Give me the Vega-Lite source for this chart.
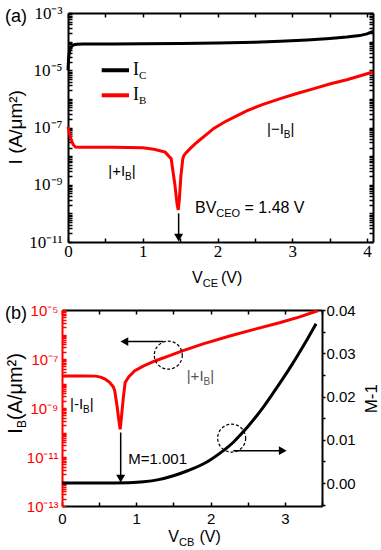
{
  "$schema": "https://vega.github.io/schema/vega-lite/v6.json",
  "background": "white",
  "padding": {"left": 4, "top": 4, "right": 0, "bottom": 0},
  "spacing": 13,
  "config": {
    "font": "Liberation Sans",
    "view": {"stroke": null},
    "axis": {"grid": false, "domainColor": "black", "domainWidth": 2, "tickColor": "black", "tickWidth": 1.5, "labelFlush": false, "labelOverlap": false, "labelColor": "black"}
  },
  "vconcat": [
    {
      "spacing": 0,
      "hconcat": [
        {"width": 1, "height": 1, "data": {"values": []}, "mark": "point", "encoding": {}},
        {
          "width": 305,
          "height": 229,
          "layer": [
            {
              "data": {"values": [
                {"v": 0, "i": 1.0e-5}, {"v": 0.008, "i": 2.51e-5}, {"v": 0.016, "i": 3.98e-5}, {"v": 0.03, "i": 5.62e-5},
                {"v": 0.05, "i": 6.92e-5}, {"v": 0.08, "i": 7.76e-5}, {"v": 0.12, "i": 8.13e-5}, {"v": 0.2, "i": 8.32e-5},
                {"v": 0.6, "i": 8.32e-5}, {"v": 1.0, "i": 8.41e-5}, {"v": 1.5, "i": 8.61e-5}, {"v": 2.0, "i": 8.91e-5},
                {"v": 2.5, "i": 9.55e-5}, {"v": 2.84, "i": 1.035e-4}, {"v": 3.2, "i": 1.148e-4}, {"v": 3.5, "i": 1.288e-4},
                {"v": 3.73, "i": 1.445e-4}, {"v": 3.9, "i": 1.622e-4}, {"v": 4.0, "i": 1.862e-4}, {"v": 4.08, "i": 2.29e-4}
              ]},
              "mark": {"type": "line", "color": "black", "strokeWidth": 3},
              "encoding": {
                "x": {"field": "v", "type": "quantitative", "scale": {"domain": [0, 4.08], "nice": false, "zero": false},
                  "axis": {"orient": "bottom", "title": null, "values": [0, 0.5, 1, 1.5, 2, 2.5, 3, 3.5, 4], "labelExpr": "datum.value % 1 == 0 ? format(datum.value, 'd') : ''", "labelFont": "Liberation Serif", "labelFontSize": 17, "tickSize": -4, "labelPadding": 5}},
                "y": {"field": "i", "type": "quantitative", "scale": {"type": "log", "domain": [1e-11, 1e-3], "nice": false},
                  "axis": {"orient": "left", "title": null,
                    "values": [1e-11,2e-11,3e-11,4e-11,5e-11,6e-11,7e-11,8e-11,9e-11,1e-10,2e-10,3e-10,4e-10,5e-10,6e-10,7e-10,8e-10,9e-10,1e-9,2e-9,3e-9,4e-9,5e-9,6e-9,7e-9,8e-9,9e-9,1e-8,2e-8,3e-8,4e-8,5e-8,6e-8,7e-8,8e-8,9e-8,1e-7,2e-7,3e-7,4e-7,5e-7,6e-7,7e-7,8e-7,9e-7,1e-6,2e-6,3e-6,4e-6,5e-6,6e-6,7e-6,8e-6,9e-6,1e-5,2e-5,3e-5,4e-5,5e-5,6e-5,7e-5,8e-5,9e-5,1e-4,2e-4,3e-4,4e-4,5e-4,6e-4,7e-4,8e-4,9e-4,1e-3],
                    "labelExpr": "(abs(log(datum.value)/LN10 - round(log(datum.value)/LN10)) < 0.01 && round(log(datum.value)/LN10) % 2 != 0) ? '10' + (round(log(datum.value)/LN10) == -3 ? '⁻³' : round(log(datum.value)/LN10) == -5 ? '⁻⁵' : round(log(datum.value)/LN10) == -7 ? '⁻⁷' : round(log(datum.value)/LN10) == -9 ? '⁻⁹' : round(log(datum.value)/LN10) == -11 ? '⁻¹¹' : '⁻¹³') : ''",
                    "labelFont": "Liberation Serif", "labelFontSize": 17, "tickSize": -4, "labelPadding": 10}}
              }
            },
            {
              "data": {"values": [
                {"v": 0, "i": 1.047e-7}, {"v": 0.02, "i": 6.31e-8}, {"v": 0.04, "i": 3.8e-8}, {"v": 0.07, "i": 2.51e-8},
                {"v": 0.1, "i": 2.09e-8}, {"v": 0.15, "i": 2.04e-8}, {"v": 0.6, "i": 2.04e-8}, {"v": 1.0, "i": 1.95e-8},
                {"v": 1.15, "i": 1.74e-8}, {"v": 1.3, "i": 1.38e-8}, {"v": 1.38, "i": 8.13e-9}, {"v": 1.43, "i": 1e-9},
                {"v": 1.46, "i": 2e-10}, {"v": 1.475, "i": 1.32e-10}, {"v": 1.49, "i": 3.16e-10}, {"v": 1.51, "i": 2e-9},
                {"v": 1.535, "i": 7.94e-9}, {"v": 1.55, "i": 1.05e-8}, {"v": 1.58, "i": 1.32e-8}, {"v": 1.64, "i": 1.905e-8},
                {"v": 1.7, "i": 2.69e-8}, {"v": 1.77, "i": 3.8e-8}, {"v": 1.85, "i": 5.62e-8}, {"v": 1.95, "i": 9.33e-8},
                {"v": 2.1, "i": 1.585e-7}, {"v": 2.25, "i": 2.51e-7}, {"v": 2.39, "i": 3.8e-7}, {"v": 2.6, "i": 6.31e-7},
                {"v": 2.84, "i": 1.023e-6}, {"v": 3.05, "i": 1.51e-6}, {"v": 3.29, "i": 2.29e-6}, {"v": 3.5, "i": 3.31e-6},
                {"v": 3.73, "i": 4.68e-6}, {"v": 3.9, "i": 6.31e-6}, {"v": 4.08, "i": 8.71e-6}
              ]},
              "mark": {"type": "line", "color": "#ff0000", "strokeWidth": 3},
              "encoding": {
                "x": {"field": "v", "type": "quantitative", "scale": {"domain": [0, 4.08], "nice": false, "zero": false},
                  "axis": {"orient": "top", "title": null, "values": [0, 0.5, 1, 1.5, 2, 2.5, 3, 3.5, 4], "labels": false, "tickSize": -4}},
                "y": {"field": "i", "type": "quantitative", "scale": {"type": "log", "domain": [1e-11, 1e-3], "nice": false},
                  "axis": {"orient": "right", "title": null,
                    "values": [1e-11,2e-11,3e-11,4e-11,5e-11,6e-11,7e-11,8e-11,9e-11,1e-10,2e-10,3e-10,4e-10,5e-10,6e-10,7e-10,8e-10,9e-10,1e-9,2e-9,3e-9,4e-9,5e-9,6e-9,7e-9,8e-9,9e-9,1e-8,2e-8,3e-8,4e-8,5e-8,6e-8,7e-8,8e-8,9e-8,1e-7,2e-7,3e-7,4e-7,5e-7,6e-7,7e-7,8e-7,9e-7,1e-6,2e-6,3e-6,4e-6,5e-6,6e-6,7e-6,8e-6,9e-6,1e-5,2e-5,3e-5,4e-5,5e-5,6e-5,7e-5,8e-5,9e-5,1e-4,2e-4,3e-4,4e-4,5e-4,6e-4,7e-4,8e-4,9e-4,1e-3],
                    "labels": false, "tickSize": -4}}
              }
            },
            {
              "data": {"values": [
                {"v": 0.451, "v2": 0.816, "y": 1e-5, "s": "IC"},
                {"v": 0.451, "v2": 0.816, "y": 1.334e-6, "s": "IB"}
              ]},
              "mark": {"type": "rule", "strokeWidth": 4},
              "encoding": {
                "x": {"field": "v", "type": "quantitative", "axis": null},
                "x2": {"field": "v2"},
                "y": {"field": "y", "type": "quantitative", "scale": {"type": "log"}, "axis": null},
                "color": {"field": "s", "type": "nominal", "scale": {"domain": ["IC", "IB"], "range": ["black", "#ff0000"]}, "legend": null}
              }
            },
            {
              "data": {"values": [{"v": 1.48, "y": 1e-10, "y2": 1.78e-11}]},
              "mark": {"type": "rule", "strokeWidth": 1.5, "color": "black"},
              "encoding": {
                "x": {"field": "v", "type": "quantitative", "axis": null},
                "y": {"field": "y", "type": "quantitative", "scale": {"type": "log"}, "axis": null},
                "y2": {"field": "y2"}
              }
            },
            {
              "data": {"values": [{"v": 1.48, "y": 1.41e-11}]},
              "mark": {"type": "point", "shape": "triangle-down", "filled": true, "color": "black", "size": 80, "opacity": 1},
              "encoding": {
                "x": {"field": "v", "type": "quantitative", "axis": null},
                "y": {"field": "y", "type": "quantitative", "scale": {"type": "log"}, "axis": null}
              }
            },
            {
              "data": {"values": [{"v": 0.87, "y": 1e-5, "t": "I"}, {"v": 0.87, "y": 1.334e-6, "t": "I"}]},
              "mark": {"type": "text", "font": "Liberation Serif", "fontSize": 18, "align": "left", "baseline": "middle", "color": "black"},
              "encoding": {
                "x": {"field": "v", "type": "quantitative", "axis": null},
                "y": {"field": "y", "type": "quantitative", "scale": {"type": "log"}, "axis": null},
                "text": {"field": "t"}
              }
            },
            {
              "data": {"values": [{"v": 0.95, "y": 1e-5, "t": "C"}, {"v": 0.95, "y": 1.334e-6, "t": "B"}]},
              "mark": {"type": "text", "font": "Liberation Serif", "fontSize": 11, "align": "left", "baseline": "middle", "dy": 6, "color": "black"},
              "encoding": {
                "x": {"field": "v", "type": "quantitative", "axis": null},
                "y": {"field": "y", "type": "quantitative", "scale": {"type": "log"}, "axis": null},
                "text": {"field": "t"}
              }
            },
            {
              "data": {"values": [
                {"v": 2.662, "y": 9.1e-8, "t": "|−I"}, {"v": 2.977, "y": 9.1e-8, "t": "|"},
                {"v": 0.539, "y": 2.95e-9, "t": "|+I"}, {"v": 0.853, "y": 2.95e-9, "t": "|"}
              ]},
              "mark": {"type": "text", "fontSize": 15, "align": "left", "baseline": "middle", "color": "black"},
              "encoding": {
                "x": {"field": "v", "type": "quantitative", "axis": null},
                "y": {"field": "y", "type": "quantitative", "scale": {"type": "log"}, "axis": null},
                "text": {"field": "t"}
              }
            },
            {
              "data": {"values": [{"v": 2.887, "y": 9.1e-8, "t": "B"}, {"v": 0.764, "y": 2.95e-9, "t": "B"}]},
              "mark": {"type": "text", "fontSize": 10, "align": "left", "baseline": "middle", "dy": 6, "color": "black"},
              "encoding": {
                "x": {"field": "v", "type": "quantitative", "axis": null},
                "y": {"field": "y", "type": "quantitative", "scale": {"type": "log"}, "axis": null},
                "text": {"field": "t"}
              }
            },
            {
              "data": {"values": [
                {"v": 1.699, "y": 1.585e-10, "t": "BV"}, {"v": 2.361, "y": 1.585e-10, "t": "= 1.48 V"},
                {"v": 1.659, "y": 5.37e-13, "t": "V"}, {"v": 2.047, "y": 5.37e-13, "t": "(V)"}
              ]},
              "mark": {"type": "text", "fontSize": 16, "align": "left", "baseline": "middle", "color": "black"},
              "encoding": {
                "x": {"field": "v", "type": "quantitative", "axis": null},
                "y": {"field": "y", "type": "quantitative", "scale": {"type": "log"}, "axis": null},
                "text": {"field": "t"}
              }
            },
            {
              "data": {"values": [{"v": 1.984, "y": 1.585e-10, "t": "CEO"}, {"v": 1.802, "y": 5.37e-13, "t": "CE"}]},
              "mark": {"type": "text", "fontSize": 11, "align": "left", "baseline": "middle", "dy": 6, "color": "black"},
              "encoding": {
                "x": {"field": "v", "type": "quantitative", "axis": null},
                "y": {"field": "y", "type": "quantitative", "scale": {"type": "log"}, "axis": null},
                "text": {"field": "t"}
              }
            },
            {
              "data": {"values": [{"v": -0.842, "y": 7.08e-4, "t": "(a)"}]},
              "mark": {"type": "text", "fontSize": 18, "align": "left", "baseline": "middle", "color": "black"},
              "encoding": {
                "x": {"field": "v", "type": "quantitative", "axis": null},
                "y": {"field": "y", "type": "quantitative", "scale": {"type": "log"}, "axis": null},
                "text": {"field": "t"}
              }
            },
            {
              "data": {"values": [{"v": -0.702, "y": 1.02e-7, "t": "I (A/μm²)"}]},
              "mark": {"type": "text", "fontSize": 19, "align": "center", "baseline": "middle", "angle": 270, "color": "black"},
              "encoding": {
                "x": {"field": "v", "type": "quantitative", "axis": null},
                "y": {"field": "y", "type": "quantitative", "scale": {"type": "log"}, "axis": null},
                "text": {"field": "t"}
              }
            }
          ],
          "resolve": {"axis": {"x": "independent", "y": "independent"}}
        }
      ]
    },
    {
      "spacing": 0,
      "hconcat": [
        {"width": 1, "height": 1, "data": {"values": []}, "mark": "point", "encoding": {}},
        {
          "width": 260,
          "height": 196,
          "layer": [
            {
              "layer": [
                {
                  "data": {"values": [
                    {"v": 0, "i": 2.04e-8}, {"v": 0.3, "i": 2.04e-8}, {"v": 0.45, "i": 2.0e-8}, {"v": 0.52, "i": 1.82e-8},
                    {"v": 0.58, "i": 1.51e-8}, {"v": 0.64, "i": 1.12e-8}, {"v": 0.69, "i": 7.41e-9}, {"v": 0.71, "i": 5.01e-9},
                    {"v": 0.74, "i": 1.26e-9}, {"v": 0.765, "i": 3.16e-10}, {"v": 0.783, "i": 1.35e-10}, {"v": 0.8, "i": 4.17e-10},
                    {"v": 0.825, "i": 2.51e-9}, {"v": 0.85, "i": 1.1e-8}, {"v": 0.9, "i": 1.905e-8}, {"v": 0.98, "i": 3.31e-8},
                    {"v": 1.1, "i": 5.25e-8}, {"v": 1.26, "i": 8.51e-8}, {"v": 1.45, "i": 1.38e-7}, {"v": 1.62, "i": 2.14e-7},
                    {"v": 1.9, "i": 4.17e-7}, {"v": 2.27, "i": 8.91e-7}, {"v": 2.6, "i": 1.66e-6}, {"v": 2.94, "i": 3.09e-6},
                    {"v": 3.2, "i": 5.25e-6}, {"v": 3.44, "i": 9.33e-6}
                  ]},
                  "mark": {"type": "line", "color": "#ff0000", "strokeWidth": 3},
                  "encoding": {
                    "x": {"field": "v", "type": "quantitative", "scale": {"domain": [0, 3.5], "nice": false, "zero": false},
                      "axis": {"orient": "bottom", "title": null, "values": [0, 0.5, 1, 1.5, 2, 2.5, 3, 3.5], "labelExpr": "datum.value % 1 == 0 ? format(datum.value, 'd') : ''", "labelFontSize": 15, "tickSize": -4, "labelPadding": 9}},
                    "y": {"field": "i", "type": "quantitative", "scale": {"type": "log", "domain": [1e-13, 1e-5], "nice": false},
                      "axis": {"orient": "left", "title": null,
                        "values": [1e-13,2e-13,3e-13,4e-13,5e-13,6e-13,7e-13,8e-13,9e-13,1e-12,2e-12,3e-12,4e-12,5e-12,6e-12,7e-12,8e-12,9e-12,1e-11,2e-11,3e-11,4e-11,5e-11,6e-11,7e-11,8e-11,9e-11,1e-10,2e-10,3e-10,4e-10,5e-10,6e-10,7e-10,8e-10,9e-10,1e-9,2e-9,3e-9,4e-9,5e-9,6e-9,7e-9,8e-9,9e-9,1e-8,2e-8,3e-8,4e-8,5e-8,6e-8,7e-8,8e-8,9e-8,1e-7,2e-7,3e-7,4e-7,5e-7,6e-7,7e-7,8e-7,9e-7,1e-6,2e-6,3e-6,4e-6,5e-6,6e-6,7e-6,8e-6,9e-6,1e-5],
                        "labelExpr": "(abs(log(datum.value)/LN10 - round(log(datum.value)/LN10)) < 0.01 && round(log(datum.value)/LN10) % 2 != 0) ? '10' + (round(log(datum.value)/LN10) == -3 ? '⁻³' : round(log(datum.value)/LN10) == -5 ? '⁻⁵' : round(log(datum.value)/LN10) == -7 ? '⁻⁷' : round(log(datum.value)/LN10) == -9 ? '⁻⁹' : round(log(datum.value)/LN10) == -11 ? '⁻¹¹' : '⁻¹³') : ''",
                        "labelFontSize": 15, "labelColor": "#ff0000", "domainColor": "#ff0000", "tickColor": "#ff0000", "tickSize": -4, "labelPadding": 8}}
                  }
                },
                {
                  "data": {"values": [{"v": 0.79, "y": 1e-10, "y2": 1.78e-12}]},
                  "mark": {"type": "rule", "strokeWidth": 1.5, "color": "black"},
                  "encoding": {
                    "x": {"field": "v", "type": "quantitative", "axis": null},
                    "y": {"field": "y", "type": "quantitative", "scale": {"type": "log"}, "axis": null},
                    "y2": {"field": "y2"}
                  }
                },
                {
                  "data": {"values": [{"v": 1.364, "v2": 0.88, "y": 5.13e-7}, {"v": 2.306, "v2": 2.95, "y": 1.82e-11}]},
                  "mark": {"type": "rule", "strokeWidth": 1.5, "color": "black"},
                  "encoding": {
                    "x": {"field": "v", "type": "quantitative", "axis": null},
                    "x2": {"field": "v2"},
                    "y": {"field": "y", "type": "quantitative", "scale": {"type": "log"}, "axis": null}
                  }
                },
                {
                  "data": {"values": [
                    {"v": 0.79, "y": 1.32e-12, "d": "down"},
                    {"v": 0.84, "y": 5.13e-7, "d": "left"},
                    {"v": 2.972, "y": 1.82e-11, "d": "right"}
                  ]},
                  "mark": {"type": "point", "filled": true, "color": "black", "size": 80, "opacity": 1},
                  "encoding": {
                    "x": {"field": "v", "type": "quantitative", "axis": null},
                    "y": {"field": "y", "type": "quantitative", "scale": {"type": "log"}, "axis": null},
                    "shape": {"field": "d", "type": "nominal", "scale": {"domain": ["down", "left", "right"], "range": ["triangle-down", "triangle-left", "triangle-right"]}, "legend": null}
                  }
                },
                {
                  "data": {"values": [{"v": 1.431, "y": 1.43e-7}, {"v": 2.284, "y": 5.89e-11}]},
                  "mark": {"type": "point", "shape": "circle", "filled": false, "size": 784, "stroke": "black", "strokeWidth": 1.2, "strokeDash": [3, 2], "opacity": 1},
                  "encoding": {
                    "x": {"field": "v", "type": "quantitative", "axis": null},
                    "y": {"field": "y", "type": "quantitative", "scale": {"type": "log"}, "axis": null}
                  }
                },
                {
                  "data": {"values": [
                    {"v": 0.108, "y": 1.455e-9, "t": "|-I"}, {"v": 0.374, "y": 1.455e-9, "t": "|"},
                    {"v": 0.892, "y": 8.3e-12, "t": "M=1.001"}
                  ]},
                  "mark": {"type": "text", "fontSize": 15, "align": "left", "baseline": "middle", "color": "black"},
                  "encoding": {
                    "x": {"field": "v", "type": "quantitative", "axis": null},
                    "y": {"field": "y", "type": "quantitative", "scale": {"type": "log"}, "axis": null},
                    "text": {"field": "t"}
                  }
                },
                {
                  "data": {"values": [{"v": 0.284, "y": 1.455e-9, "t": "B"}]},
                  "mark": {"type": "text", "fontSize": 10, "align": "left", "baseline": "middle", "dy": 6, "color": "black"},
                  "encoding": {
                    "x": {"field": "v", "type": "quantitative", "axis": null},
                    "y": {"field": "y", "type": "quantitative", "scale": {"type": "log"}, "axis": null},
                    "text": {"field": "t"}
                  }
                },
                {
                  "data": {"values": [{"v": 1.679, "y": 2.09e-8, "t": "|+I"}, {"v": 1.996, "y": 2.09e-8, "t": "|"}]},
                  "mark": {"type": "text", "fontSize": 15, "align": "left", "baseline": "middle", "color": "#555555"},
                  "encoding": {
                    "x": {"field": "v", "type": "quantitative", "axis": null},
                    "y": {"field": "y", "type": "quantitative", "scale": {"type": "log"}, "axis": null},
                    "text": {"field": "t"}
                  }
                },
                {
                  "data": {"values": [{"v": 1.906, "y": 2.09e-8, "t": "B"}]},
                  "mark": {"type": "text", "fontSize": 10, "align": "left", "baseline": "middle", "dy": 6, "color": "#555555"},
                  "encoding": {
                    "x": {"field": "v", "type": "quantitative", "axis": null},
                    "y": {"field": "y", "type": "quantitative", "scale": {"type": "log"}, "axis": null},
                    "text": {"field": "t"}
                  }
                },
                {
                  "data": {"values": [{"v": 1.431, "y": 5.25e-15, "t": "V"}, {"v": 1.85, "y": 5.25e-15, "t": "(V)"}]},
                  "mark": {"type": "text", "fontSize": 16, "align": "left", "baseline": "middle", "color": "black"},
                  "encoding": {
                    "x": {"field": "v", "type": "quantitative", "axis": null},
                    "y": {"field": "y", "type": "quantitative", "scale": {"type": "log"}, "axis": null},
                    "text": {"field": "t"}
                  }
                },
                {
                  "data": {"values": [{"v": 1.575, "y": 5.25e-15, "t": "CB"}]},
                  "mark": {"type": "text", "fontSize": 11, "align": "left", "baseline": "middle", "dy": 6, "color": "black"},
                  "encoding": {
                    "x": {"field": "v", "type": "quantitative", "axis": null},
                    "y": {"field": "y", "type": "quantitative", "scale": {"type": "log"}, "axis": null},
                    "text": {"field": "t"}
                  }
                },
                {
                  "data": {"values": [{"v": -0.7665, "y": 7.08e-6, "t": "(b)"}]},
                  "mark": {"type": "text", "fontSize": 18, "align": "left", "baseline": "middle", "color": "black"},
                  "encoding": {
                    "x": {"field": "v", "type": "quantitative", "axis": null},
                    "y": {"field": "y", "type": "quantitative", "scale": {"type": "log"}, "axis": null},
                    "text": {"field": "t"}
                  }
                },
                {
                  "data": {"values": [{"v": -0.619, "y": 8.9e-11, "t": "I"}, {"v": -0.619, "y": 3.2e-10, "t": "(A/μm²)"}]},
                  "mark": {"type": "text", "fontSize": 20, "align": "left", "baseline": "middle", "angle": 270, "color": "black"},
                  "encoding": {
                    "x": {"field": "v", "type": "quantitative", "axis": null},
                    "y": {"field": "y", "type": "quantitative", "scale": {"type": "log"}, "axis": null},
                    "text": {"field": "t"}
                  }
                },
                {
                  "data": {"values": [{"v": -0.619, "y": 1.51e-10, "t": "B"}]},
                  "mark": {"type": "text", "fontSize": 12, "align": "left", "baseline": "middle", "angle": 270, "dy": 6, "color": "black"},
                  "encoding": {
                    "x": {"field": "v", "type": "quantitative", "axis": null},
                    "y": {"field": "y", "type": "quantitative", "scale": {"type": "log"}, "axis": null},
                    "text": {"field": "t"}
                  }
                },
                {
                  "data": {"values": [{"v": 4.173, "y": 2.4e-9, "t": "M-1"}]},
                  "mark": {"type": "text", "fontSize": 17, "align": "center", "baseline": "middle", "angle": 270, "color": "black"},
                  "encoding": {
                    "x": {"field": "v", "type": "quantitative", "axis": null},
                    "y": {"field": "y", "type": "quantitative", "scale": {"type": "log"}, "axis": null},
                    "text": {"field": "t"}
                  }
                }
              ],
              "resolve": {"axis": {"x": "independent", "y": "independent"}}
            },
            {
              "data": {"values": [
                {"v": 0, "m": 0}, {"v": 0.5, "m": 0}, {"v": 0.9, "m": 0.0001}, {"v": 1.1, "m": 0.0003},
                {"v": 1.3, "m": 0.0008}, {"v": 1.5, "m": 0.0017}, {"v": 1.7, "m": 0.0029}, {"v": 1.9, "m": 0.0044},
                {"v": 2.0, "m": 0.0054}, {"v": 2.15, "m": 0.0072}, {"v": 2.31, "m": 0.0095}, {"v": 2.4, "m": 0.0111},
                {"v": 2.5, "m": 0.013}, {"v": 2.6, "m": 0.0151}, {"v": 2.72, "m": 0.0178}, {"v": 2.85, "m": 0.021},
                {"v": 2.98, "m": 0.0243}, {"v": 3.1, "m": 0.0275}, {"v": 3.2, "m": 0.0303}, {"v": 3.3, "m": 0.0332},
                {"v": 3.42, "m": 0.0368}
              ]},
              "mark": {"type": "line", "color": "black", "strokeWidth": 3, "interpolate": "monotone"},
              "encoding": {
                "x": {"field": "v", "type": "quantitative", "scale": {"domain": [0, 3.5], "nice": false, "zero": false},
                  "axis": {"orient": "top", "title": null, "values": [0, 0.5, 1, 1.5, 2, 2.5, 3, 3.5], "labels": false, "tickSize": -4}},
                "y": {"field": "m", "type": "quantitative", "scale": {"domain": [-0.0053, 0.04], "nice": false, "zero": false},
                  "axis": {"orient": "right", "title": null, "values": [-0.005, 0, 0.005, 0.01, 0.015, 0.02, 0.025, 0.03, 0.035, 0.04],
                    "labelExpr": "abs(datum.value*100 - round(datum.value*100)) < 0.001 ? format(datum.value, '.2f') : ''",
                    "labelFontSize": 15, "tickSize": 3, "labelPadding": 1}}
              }
            }
          ],
          "resolve": {"scale": {"y": "independent"}, "axis": {"x": "independent", "y": "independent"}}
        }
      ]
    }
  ]
}
